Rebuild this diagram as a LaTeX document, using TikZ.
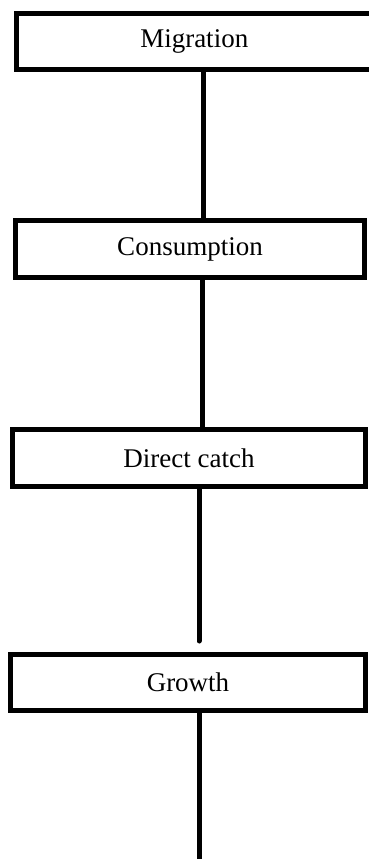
\documentclass[tikz,border=0pt]{standalone}
\usepackage{fontspec}
\setmainfont{Liberation Serif}
\begin{document}
\begin{tikzpicture}[x=1pt,y=1pt,
  box/.style={draw=black, line width=4.5pt, fill=white, inner sep=0pt, font=\fontsize{27}{30}\selectfont},
  link/.style={draw=black, line width=5pt}]
\useasboundingbox (0,0) rectangle (369,-859);
\node[box, minimum width=355.5pt, minimum height=56pt] (mig) at (194.25,-41.5) {Migration};
\node[box, minimum width=349pt, minimum height=57pt] (con) at (190,-249) {Consumption};
\node[box, minimum width=353pt, minimum height=57pt] (dir) at (189,-458) {Direct catch};
\node[box, minimum width=355pt, minimum height=56pt] (gro) at (188,-682.5) {Growth};
\coordinate (end3) at (199,-641);
\coordinate (end4) at (199,-862);
\draw[link] (mig.south -| 203,0) -- (con.north -| 203,0);
\draw[link] (con.south -| 202,0) -- (dir.north -| 202,0);
\draw[link, line cap=round] (dir.south -| end3) -- (end3);
\draw[link] (gro.south -| end4) -- (end4);
\end{tikzpicture}
\end{document}
